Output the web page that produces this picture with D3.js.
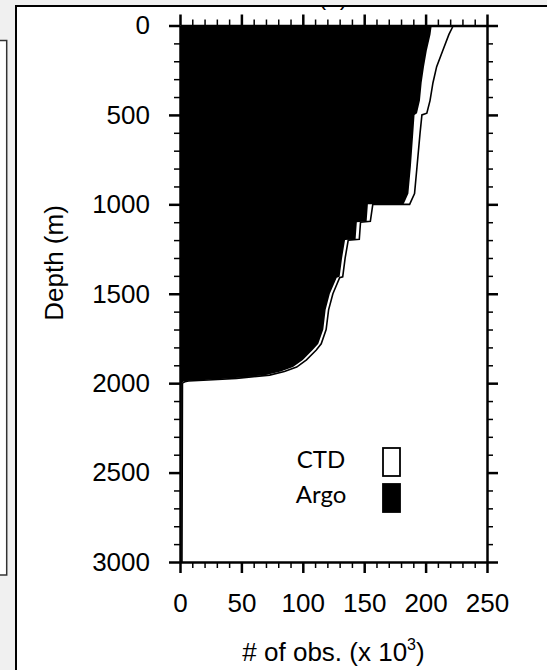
<!DOCTYPE html>
<html>
<head>
<meta charset="utf-8">
<script src="https://cdn.jsdelivr.net/npm/d3@7"></script>
<style>
  html, body { margin: 0; padding: 0; background: #f0f0f0; }
  svg { display: block; }
  .gmt text { font-family: "Liberation Sans", Arial, Helvetica, sans-serif; }
</style>
</head>
<body>
<svg id="chart"></svg>
<script>
// Depth levels (m); repeated depths mark the steps in the profiles
const depths = [0, 50, 140, 230, 320, 420, 490, 500, 600, 790, 940, 985, 1000, 1000,
  1095, 1100, 1195, 1200, 1300, 1405, 1410, 1500, 1590, 1700, 1780, 1815, 1870,
  1910, 1935, 1955, 1965, 1973, 1982, 1988, 1992, 2000, 2500, 3000];

// Number of observations (x 10^3) at each depth
const argoCounts = [205, 204, 201, 198.7, 196.8, 195.4, 193, 191, 190, 188, 186, 183, 182, 153,
  152, 144, 143, 134.4, 132, 130, 127.6, 122, 118.6, 116.7, 112.6, 108, 100,
  92, 82, 70, 55, 43, 20, 5, 2.5, 1.5, 1.2, 1];
const ctdCounts = [222.6, 219, 214, 209, 206, 203.6, 201, 197, 195.5, 193, 191, 188, 187, 157,
  155, 147, 146, 137, 134.5, 132.5, 130, 124.5, 121, 119, 115, 111, 103,
  95, 85, 73, 58, 46, 23, 7, 4, 2, 1.8, 1.6];

const xTicks = [0, 50, 100, 150, 200, 250];
const yTicks = [0, 500, 1000, 1500, 2000, 2500, 3000];
const legendLabels = ["CTD", "Argo"];

const width = 547, height = 670;
const svg = d3.select("#chart").attr("width", width).attr("height", height);

// left neighbour panel edge (cut off)
svg.append("rect")
  .attr("x", -10).attr("y", 40.5)
  .attr("width", 16.7).attr("height", 534.5)
  .attr("fill", "#fff").attr("stroke", "#333").attr("stroke-width", 1.5);

// main panel
svg.append("defs").append("clipPath").attr("id", "panelClip")
  .append("rect").attr("x", 17).attr("y", 7).attr("width", 600).attr("height", 700);

svg.append("rect")
  .attr("x", 16).attr("y", 6)
  .attr("width", 600).attr("height", 700)
  .attr("fill", "#fff").attr("stroke", "#000").attr("stroke-width", 2);

const panel = svg.append("g").attr("class", "gmt").attr("clip-path", "url(#panelClip)");

// panel title, mostly hidden above the frame
panel.append("text")
  .attr("x", 333).attr("y", 5)
  .attr("text-anchor", "middle")
  .attr("font-size", 24)
  .text("(b)");

const x = d3.scaleLinear().domain([0, 250]).range([180, 487]);
const y = d3.scaleLinear().domain([0, 3000]).range([25.5, 562]);

const rows = depths.map((d, i) => ({ depth: d, argo: argoCounts[i], ctd: ctdCounts[i] }));

// CTD profile: white area with black outline
const ctdArea = d3.area()
  .x0(x(0)).x1(d => x(d.ctd))
  .y(d => y(d.depth));
panel.append("path").datum(rows)
  .attr("fill", "#fff")
  .attr("d", ctdArea);

panel.append("path").datum(rows)
  .attr("fill", "none")
  .attr("stroke", "#000")
  .attr("stroke-width", 1.6)
  .attr("d", d3.line().x(d => x(d.ctd)).y(d => y(d.depth)));

// Argo profile: black area
const argoArea = d3.area()
  .x0(x(0)).x1(d => x(d.argo))
  .y(d => y(d.depth));
panel.append("path").datum(rows)
  .attr("fill", "#000")
  .attr("d", argoArea);

// axes
const fontSize = 26;
const xMinor = d3.range(0, 251, 10).filter(v => v % 50 !== 0);
const yMinor = d3.range(0, 3001, 100).filter(v => v % 500 !== 0);

function styleAxis(g, w) {
  g.attr("font-family", null).attr("font-size", null);
  g.selectAll(".domain").attr("stroke", "#000").attr("stroke-width", 2.5);
  g.selectAll(".tick line").attr("stroke", "#000").attr("stroke-width", w);
  g.selectAll("text").attr("font-size", fontSize).attr("fill", "#000");
}

function minorAxis(axis, vals) {
  return axis.tickValues(vals).tickSize(6).tickSizeOuter(0).tickFormat("");
}

// bottom
panel.append("g").attr("transform", `translate(0,${y(3000)})`)
  .call(minorAxis(d3.axisBottom(x), xMinor))
  .call(g => { g.select(".domain").remove(); styleAxis(g, 1.5); });
panel.append("g").attr("transform", `translate(0,${y(3000)})`)
  .call(d3.axisBottom(x).tickValues(xTicks).tickSize(11).tickSizeOuter(0)
    .tickPadding(21).tickFormat(d3.format("d")))
  .call(g => styleAxis(g, 2.5));

// top
panel.append("g").attr("transform", `translate(0,${y(0)})`)
  .call(minorAxis(d3.axisTop(x), xMinor))
  .call(g => { g.select(".domain").remove(); styleAxis(g, 1.5); });
panel.append("g").attr("transform", `translate(0,${y(0)})`)
  .call(d3.axisTop(x).tickValues(xTicks).tickSize(11).tickSizeOuter(0).tickFormat(""))
  .call(g => styleAxis(g, 2.5));

// left
panel.append("g").attr("transform", `translate(${x(0)},0)`)
  .call(minorAxis(d3.axisLeft(y), yMinor))
  .call(g => { g.select(".domain").remove(); styleAxis(g, 1.5); });
panel.append("g").attr("transform", `translate(${x(0)},0)`)
  .call(d3.axisLeft(y).tickValues(yTicks).tickSize(11).tickSizeOuter(0)
    .tickPadding(19).tickFormat(d3.format("d")))
  .call(g => styleAxis(g, 2.5));

// right
panel.append("g").attr("transform", `translate(${x(250)},0)`)
  .call(minorAxis(d3.axisRight(y), yMinor))
  .call(g => { g.select(".domain").remove(); styleAxis(g, 1.5); });
panel.append("g").attr("transform", `translate(${x(250)},0)`)
  .call(d3.axisRight(y).tickValues(yTicks).tickSize(11).tickSizeOuter(0).tickFormat(""))
  .call(g => styleAxis(g, 2.5));

// axis titles
const xTitle = panel.append("text")
  .attr("x", (x(0) + x(250)) / 2).attr("y", 661)
  .attr("text-anchor", "middle")
  .attr("font-size", fontSize);
xTitle.append("tspan").text("# of obs. (x 10");
xTitle.append("tspan").attr("font-size", 16).attr("dy", -11).text("3");
xTitle.append("tspan").attr("dy", 11).text(")");

panel.append("text")
  .attr("transform", "translate(63,263) rotate(-90)")
  .attr("text-anchor", "middle")
  .attr("font-size", fontSize)
  .text("Depth (m)");

// legend
const legend = svg.append("g");
legend.selectAll("text").data(legendLabels).enter().append("text")
  .attr("x", 321).attr("y", (d, i) => 468 + i * 35)
  .attr("text-anchor", "middle")
  .attr("font-family", "Lato, 'Open Sans', sans-serif")
  .attr("font-size", 24)
  .attr("fill", "#000")
  .text(d => d);
legend.selectAll("rect").data(legendLabels).enter().append("rect")
  .attr("x", 383).attr("y", (d, i) => 448 + i * 36)
  .attr("width", 17).attr("height", 28)
  .attr("fill", (d, i) => i === 0 ? "#fff" : "#000")
  .attr("stroke", "#000").attr("stroke-width", 1.8);
</script>
</body>
</html>
